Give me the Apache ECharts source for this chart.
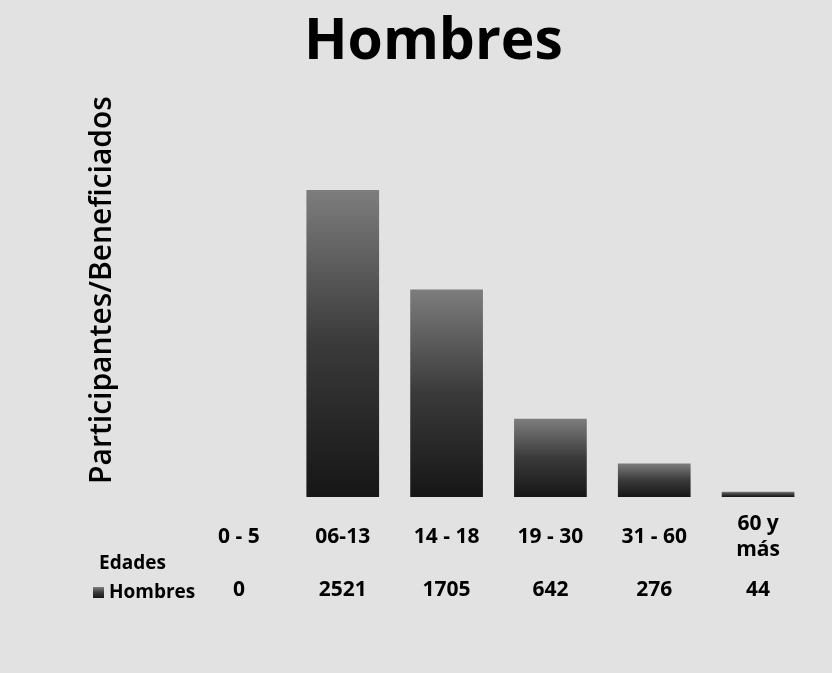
<!DOCTYPE html>
<html>
<head>
<meta charset="utf-8">
<script src="https://cdn.jsdelivr.net/npm/echarts@6/dist/echarts.min.js"></script>
<style>
  html, body { margin: 0; padding: 0; background: #e2e2e2; }
  #main { width: 832px; height: 673px; }
</style>
</head>
<body>
<div id="main"></div>
<script>
// datos del grafico
var edades = ['0 - 5', '06-13', '14 - 18', '19 - 30', '31 - 60', '60 y\nmás'];
var hombres = [0, 2521, 1705, 642, 276, 44];
var titulo = 'Hombres';
var nombreEje = 'Participantes/Beneficiados';

var chartDom = document.getElementById('main');
var myChart = echarts.init(chartDom);
var fuente = 'Open Sans';
var option;

option = {
  backgroundColor: '#e2e2e2',
  title: {
    text: titulo,
    left: 299,
    top: 9,
    textStyle: { fontFamily: fuente, fontSize: 57, fontWeight: 'bold', color: '#000' }
  },
  legend: {
    data: ['Hombres'],
    left: 88,
    top: 578,
    icon: 'rect',
    itemWidth: 11,
    itemHeight: 11,
    itemGap: 5,
    textStyle: { fontFamily: fuente, fontSize: 19, fontWeight: 'bold', color: '#000' }
  },
  graphic: [{
    type: 'text',
    left: 99,
    top: 554,
    style: { text: 'Edades', font: 'bold 19px "Open Sans"', fill: '#000' }
  }],
  grid: { left: 187, right: 22, top: 83, bottom: 176 },
  xAxis: [{
    type: 'category',
    data: edades,
    axisLine: { show: false },
    axisTick: { show: false },
    axisLabel: {
      margin: 40,
      verticalAlign: 'middle',
      lineHeight: 26,
      fontFamily: fuente, fontSize: 21, fontWeight: 'bold', color: '#000'
    }
  }, {
    type: 'category',
    data: edades,
    position: 'bottom',
    offset: 93,
    axisLine: { show: false },
    axisTick: { show: false },
    axisLabel: {
      margin: 0,
      verticalAlign: 'middle',
      formatter: function (v, i) { return String(hombres[i]); },
      fontFamily: fuente, fontSize: 21, fontWeight: 'bold', color: '#000'
    }
  }],
  yAxis: {
    type: 'value',
    min: 0,
    max: 3400,
    name: nombreEje,
    nameLocation: 'middle',
    nameGap: 70,
    nameTextStyle: { fontFamily: fuente, fontSize: 30, fontWeight: 600, color: '#000' },
    axisLabel: { show: false },
    axisLine: { show: false },
    axisTick: { show: false },
    splitLine: { show: false }
  },
  series: [{
    name: 'Hombres',
    type: 'bar',
    barWidth: '70%',
    data: hombres,
    itemStyle: {
      color: new echarts.graphic.LinearGradient(0, 0, 0, 1, [
        { offset: 0, color: '#7d7d7d' },
        { offset: 0.5, color: '#3a3a3a' },
        { offset: 1, color: '#161616' }
      ])
    }
  }]
};
option && myChart.setOption(option);
</script>
</body>
</html>
